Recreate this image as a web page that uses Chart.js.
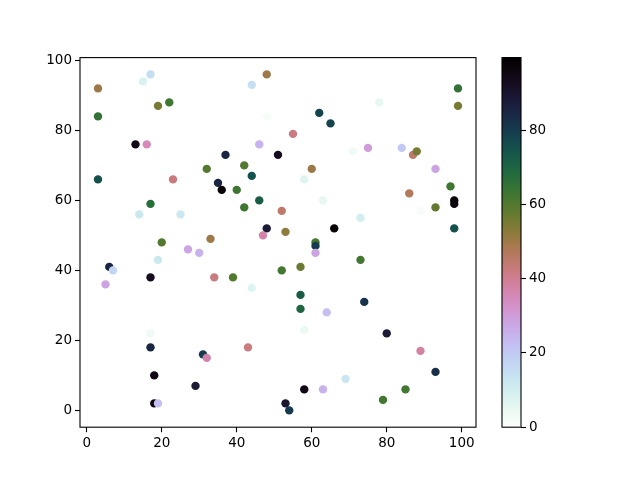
<!DOCTYPE html>
<html>
<head>
<meta charset="utf-8">
<script src="https://cdn.jsdelivr.net/npm/chart.js@4/dist/chart.umd.min.js"></script>
<style>
  body { margin: 0; background: #fff; }
  #wrap { position: relative; width: 640px; height: 480px; }
  #wrap canvas { position: absolute; left: 0; top: 0; }
</style>
</head>
<body>
<div id="wrap">
  <canvas id="scatterChart" width="640" height="480"></canvas>
  <canvas id="barChart" width="640" height="480"></canvas>
</div>
<script>
// point data
const xValues = [3, 15, 17, 3, 19, 22, 44, 48, 48, 13, 16, 46, 37, 51, 32, 42, 44, 99, 99, 78,
  62, 65, 55, 71, 75, 84, 87, 88, 93, 60, 3, 23, 35, 36, 40, 46, 42, 17, 14, 25,
  48, 47, 20, 33, 27, 30, 19, 6, 7, 5, 17, 34, 39, 44, 58, 97, 86, 98, 98, 93,
  89, 63, 52, 73, 53, 66, 61, 61, 61, 73, 52, 57, 57, 74, 98, 17, 17, 31, 32, 43,
  18, 29, 18, 19, 57, 64, 58, 80, 89, 93, 69, 58, 63, 85, 79, 53, 54];
const yValues = [92, 94, 96, 84, 87, 88, 93, 96, 84, 76, 76, 76, 73, 73, 69, 70, 67, 92, 87, 88,
  85, 82, 79, 74, 75, 75, 73, 74, 69, 69, 66, 66, 65, 63, 63, 60, 58, 59, 56, 56,
  52, 50, 48, 49, 46, 45, 43, 41, 40, 36, 38, 38, 38, 35, 66, 64, 62, 60, 59, 58,
  57, 60, 57, 55, 51, 52, 48, 47, 45, 43, 40, 41, 33, 31, 52, 22, 18, 16, 15, 18,
  10, 7, 2, 2, 29, 28, 23, 22, 17, 11, 9, 6, 6, 6, 3, 2, 0];
const cValues = [50, 8, 15, 65, 55, 63, 15, 50, 2, 95, 35, 25, 85, 93, 60, 60, 75, 65, 55, 5,
  78, 78, 42, 3, 30, 20, 45, 55, 28, 50, 75, 42, 85, 98, 63, 72, 63, 67, 12, 12,
  88, 37, 60, 50, 28, 25, 12, 85, 17, 28, 93, 42, 60, 7, 7, 63, 47, 97, 97, 58,
  2, 5, 45, 10, 52, 98, 62, 80, 28, 62, 62, 57, 72, 82, 75, 3, 85, 80, 37, 42,
  95, 88, 95, 22, 70, 22, 4, 88, 38, 83, 13, 95, 25, 62, 62, 90, 80];

const xTicks = [0, 20, 40, 60, 80, 100];
const yTicks = [0, 20, 40, 60, 80, 100];
const cTicks = [0, 20, 40, 60, 80];
const cMin = 0, cMax = 99.5;

// matplotlib's cubehelix, reversed
function cubehelixR(v) {
  let t = 1 - (v - cMin) / (cMax - cMin);
  t = Math.min(1, Math.max(0, t));
  const a = t * (1 - t) / 2;
  const phi = 2 * Math.PI * (0.5 / 3 - 1.5 * t);
  const c = Math.cos(phi), s = Math.sin(phi);
  const r = t + a * (-0.14861 * c + 1.78277 * s);
  const g = t + a * (-0.29227 * c - 0.90649 * s);
  const b = t + a * (1.97294 * c);
  const f = x => Math.round(255 * Math.min(1, Math.max(0, x)));
  return `rgb(${f(r)}, ${f(g)}, ${f(b)})`;
}

const font = { family: 'DejaVu Sans', size: 13.5 };
Chart.defaults.font = font;
Chart.defaults.color = '#000';

// black box around a chart area
const frame = {
  id: 'frame',
  afterDraw(chart) {
    const { ctx, chartArea: a } = chart;
    ctx.save();
    ctx.strokeStyle = '#000';
    ctx.lineWidth = 1.1;
    ctx.strokeRect(a.left, a.top, a.right - a.left, a.bottom - a.top);
    ctx.restore();
  }
};

function axisStyle(extra) {
  return Object.assign({
    type: 'linear',
    grid: { drawOnChartArea: false, drawTicks: true, tickLength: 5, tickColor: '#000', tickWidth: 1.1 },
    border: { display: false },
    ticks: { color: '#000', font: font, padding: 3 }
  }, extra);
}

const points = xValues.map((x, i) => ({ x: x, y: yValues[i] }));
const colors = cValues.map(cubehelixR);

new Chart(document.getElementById('scatterChart').getContext('2d'), {
  type: 'scatter',
  data: {
    datasets: [{
      data: points,
      backgroundColor: colors,
      borderColor: colors,
      borderWidth: 0,
      pointRadius: 4.2,
      pointHoverRadius: 4.2
    }]
  },
  options: {
    responsive: false,
    animation: false,
    layout: { padding: { left: 0, top: 57.6, right: 164, bottom: 0 } },
    plugins: { legend: { display: false }, tooltip: { enabled: false } },
    scales: {
      x: axisStyle({
        min: -1.8, max: 103.8,
        afterFit: s => { s.height = 52.8; },
        afterBuildTicks: s => { s.ticks = xTicks.map(v => ({ value: v })); }
      }),
      y: axisStyle({
        min: -4.8, max: 100.8,
        afterFit: s => { s.width = 80; },
        afterBuildTicks: s => { s.ticks = yTicks.map(v => ({ value: v })); }
      })
    }
  },
  plugins: [frame]
});

// colour bar
const gradient = {
  id: 'gradient',
  beforeDatasetsDraw(chart) {
    const { ctx, chartArea: a } = chart;
    const y = chart.scales.y;
    ctx.save();
    for (let py = Math.floor(a.top); py < a.bottom; py++) {
      ctx.fillStyle = cubehelixR(y.getValueForPixel(py + 0.5));
      ctx.fillRect(a.left, py, a.right - a.left, 1.2);
    }
    ctx.restore();
  }
};

new Chart(document.getElementById('barChart').getContext('2d'), {
  type: 'scatter',
  data: { datasets: [{ data: [] }] },
  options: {
    responsive: false,
    animation: false,
    layout: { padding: { left: 502, top: 57.6, right: 69, bottom: 52.8 } },
    plugins: { legend: { display: false }, tooltip: { enabled: false } },
    scales: {
      x: { type: 'linear', display: false, min: 0, max: 1 },
      y: axisStyle({
        position: 'right',
        min: cMin, max: cMax,
        afterFit: s => { s.width = 50; },
        afterBuildTicks: s => { s.ticks = cTicks.map(v => ({ value: v })); }
      })
    }
  },
  plugins: [gradient, frame]
});
</script>
</body>
</html>
